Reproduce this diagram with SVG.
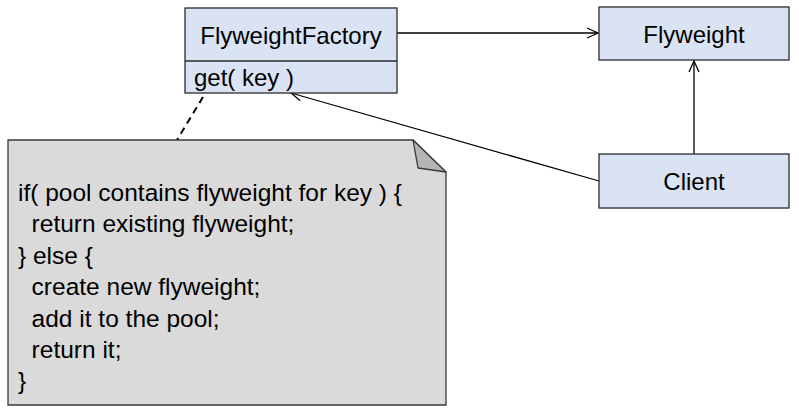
<svg xmlns="http://www.w3.org/2000/svg" width="799" height="413" viewBox="0 0 799 413">
<defs>
<style>
.box{fill:#dae3f3;stroke:#2b2b2b;stroke-width:1.3}
.t{font-family:"Liberation Sans",Arial,sans-serif;font-size:24px;fill:#000}
.n{font-size:24.5px}
.c{text-anchor:middle}
.ln{stroke:#000;stroke-width:1.3;fill:none}
</style>
<marker id="open" markerWidth="14" markerHeight="12" refX="12" refY="6" orient="auto" markerUnits="userSpaceOnUse">
<path d="M1,1 L12,6 L1,11" fill="none" stroke="#000" stroke-width="1.3"/>
</marker>
</defs>
<g id="connectors">
<line class="ln" x1="397" y1="33" x2="598" y2="33" marker-end="url(#open)"/>
<line class="ln" x1="694" y1="154" x2="694" y2="61" marker-end="url(#open)"/>
<line class="ln" x1="599" y1="181" x2="291" y2="93" marker-end="url(#open)"/>
<line x1="203" y1="97" x2="177" y2="140" stroke="#000" stroke-width="2" stroke-dasharray="7,5"/>
</g>
<g id="FlyweightFactory">
<rect class="box" x="185" y="8" width="212" height="85"/>
<line x1="185" y1="61" x2="397" y2="61" stroke="#2b2b2b" stroke-width="1.3"/>
<text class="t c" x="291" y="44">FlyweightFactory</text>
<text class="t" x="194" y="86">get( key )</text>
</g>
<g id="Flyweight">
<rect class="box" x="599" y="7" width="190" height="53"/>
<text class="t c" x="694" y="43">Flyweight</text>
</g>
<g id="Client">
<rect class="box" x="599" y="154" width="190" height="54"/>
<text class="t c" x="694" y="190">Client</text>
</g>
<g id="note">
<path d="M8,140 L413,140 L446,172 L446,405 L8,405 Z" fill="#dadada" stroke="#3a3a3a" stroke-width="1.3"/>
<path d="M413,140 L418,168 L446,172 Z" fill="#b4b4b4" stroke="#3a3a3a" stroke-width="1.3" stroke-linejoin="round"/>
<text class="t n" x="18" y="201">if( pool contains flyweight for key ) {</text>
<text class="t n" x="18" y="232" xml:space="preserve">  return existing flyweight;</text>
<text class="t n" x="18" y="264">} else {</text>
<text class="t n" x="18" y="295" xml:space="preserve">  create new flyweight;</text>
<text class="t n" x="18" y="327" xml:space="preserve">  add it to the pool;</text>
<text class="t n" x="18" y="358" xml:space="preserve">  return it;</text>
<text class="t n" x="18" y="389">}</text>
</g>
</svg>
